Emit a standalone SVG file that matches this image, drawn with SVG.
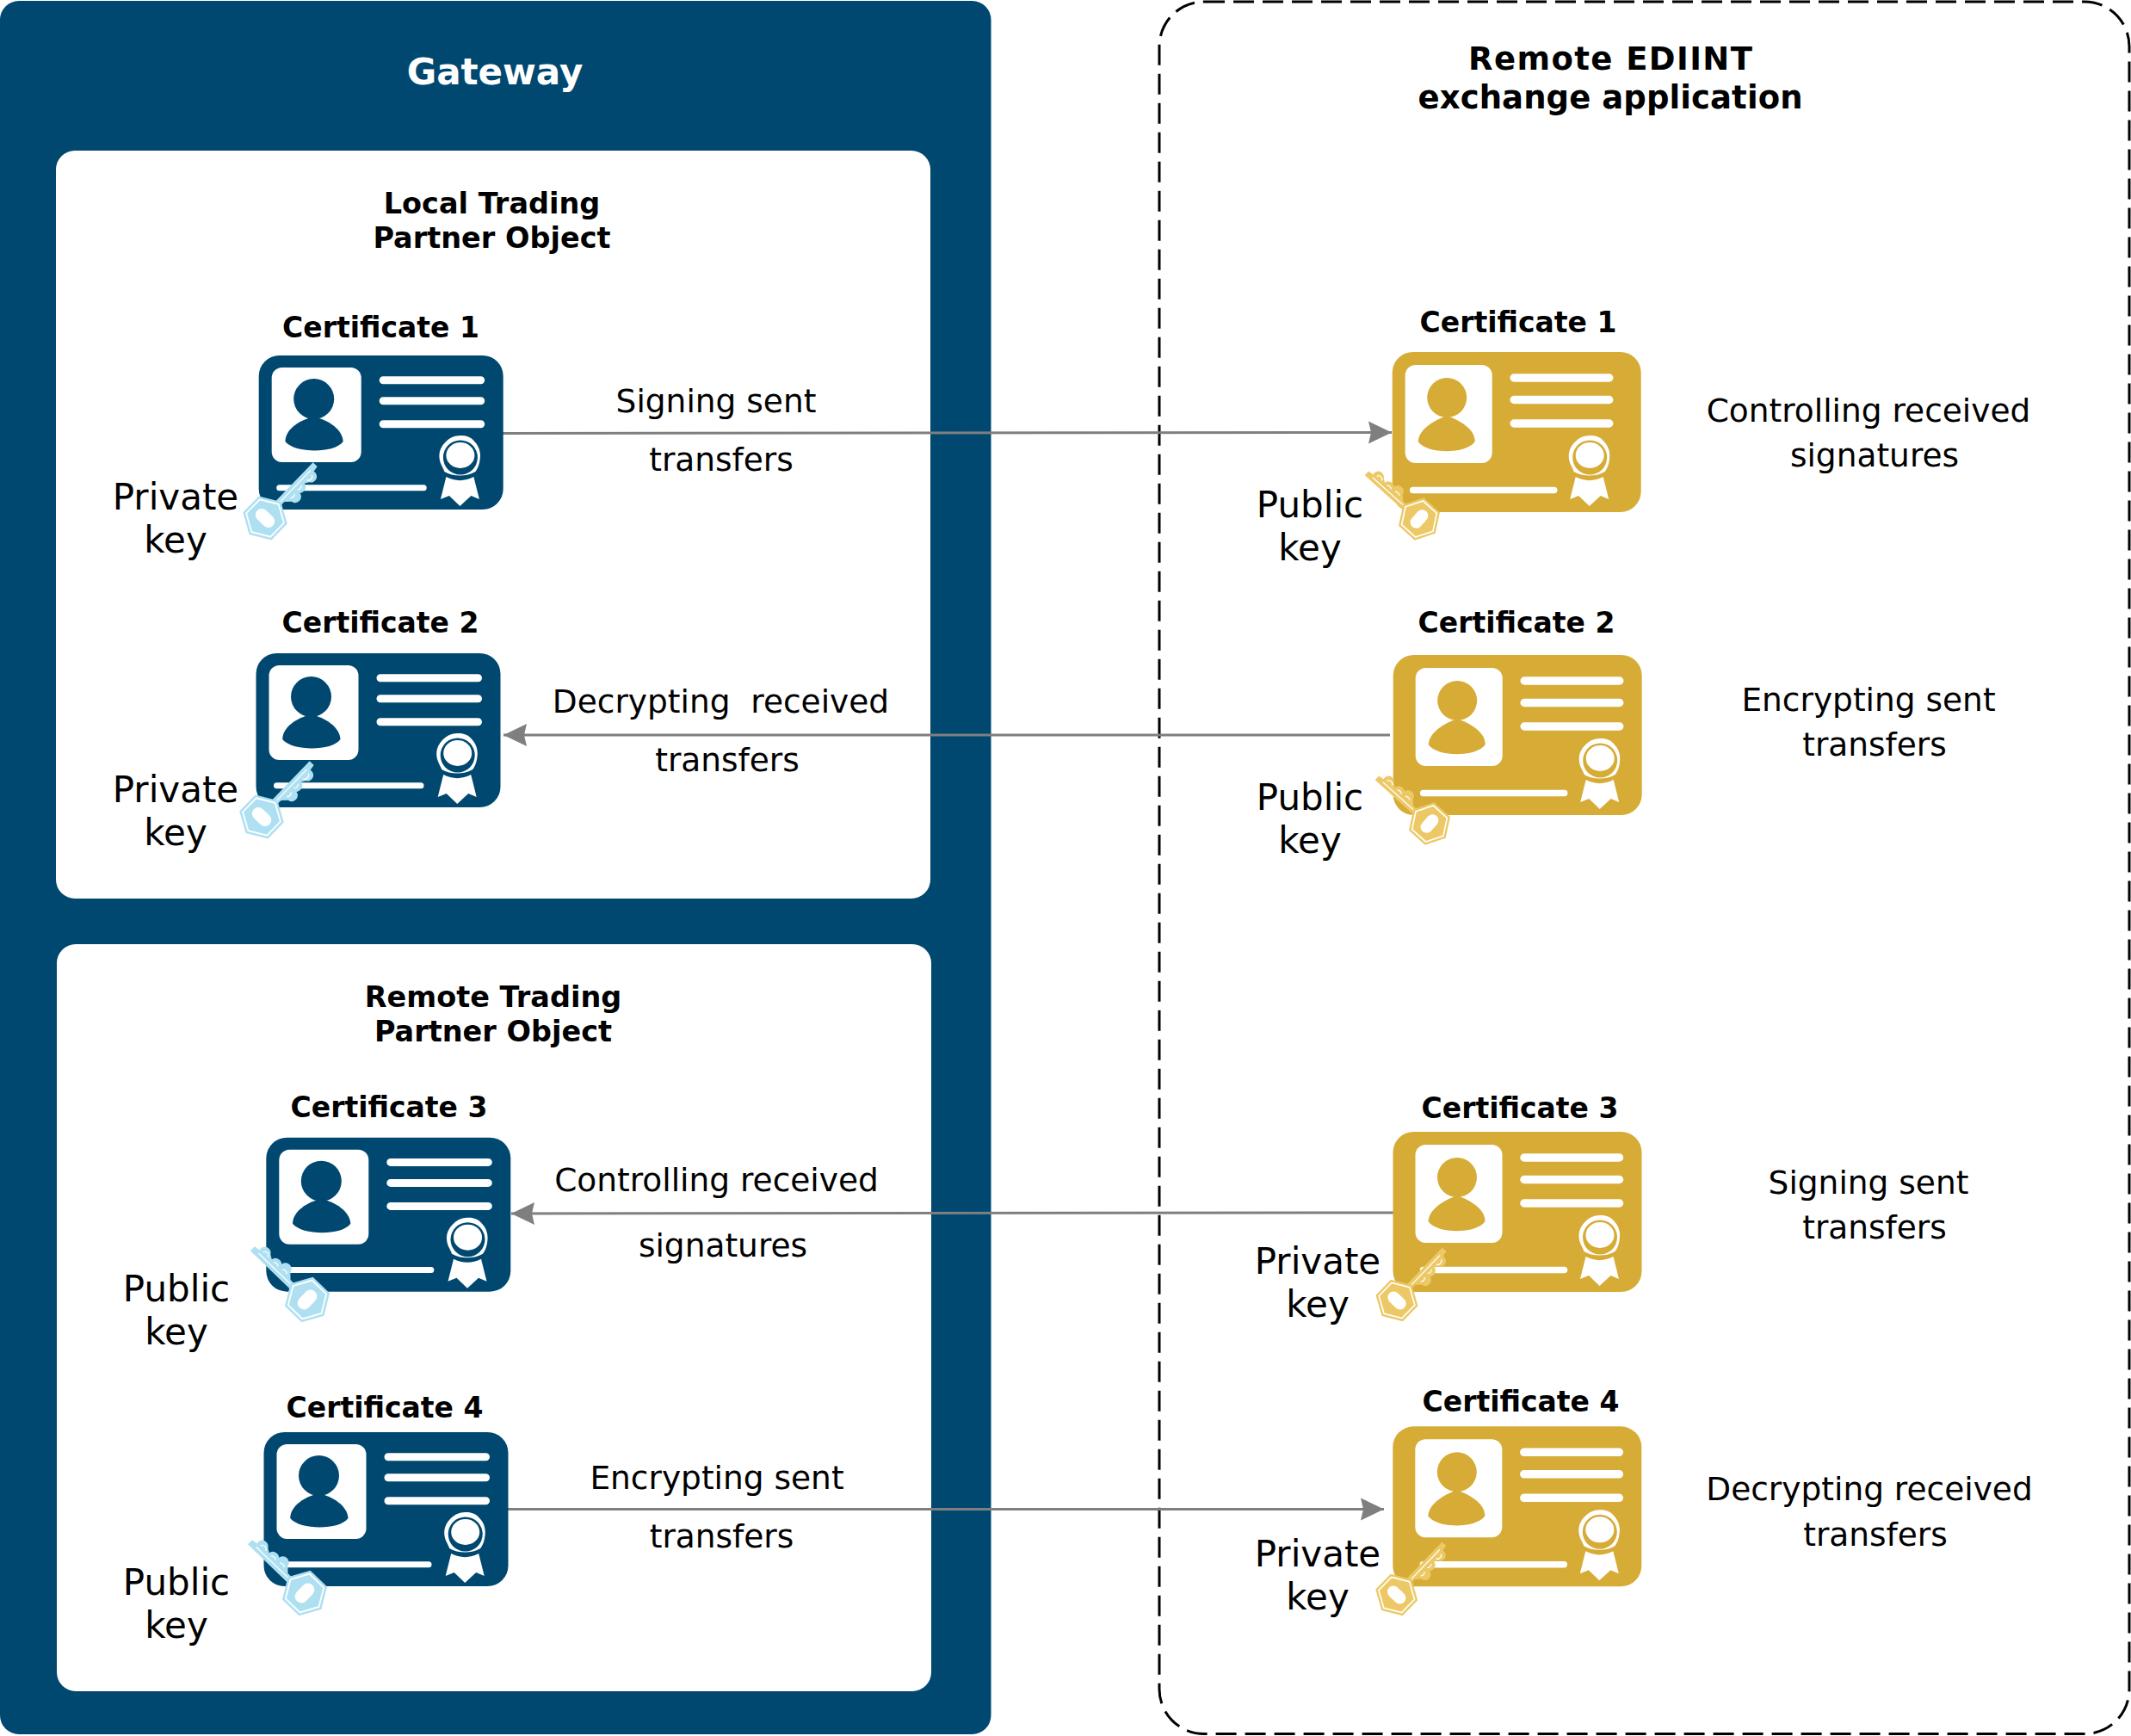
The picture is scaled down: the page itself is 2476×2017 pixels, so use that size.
<svg xmlns="http://www.w3.org/2000/svg" width="2476" height="2017" viewBox="0 0 2476 2017">
<style>
text{font-family:"DejaVu Sans","Verdana",sans-serif;fill:#000;text-anchor:middle}
.h0{font-size:42px;font-weight:700}
.h1{font-size:37px;font-weight:700}
.gw{fill:#fff}
.h2{font-size:33.5px;font-weight:700}
.c{font-size:33px;font-weight:700}
.k{font-size:42px}
.l{font-size:37.5px}
.conn{fill:none;stroke:#7f7f7f;stroke-width:3}
.w{fill:#fff}
.wl{stroke:#fff;stroke-linecap:round;fill:none}
</style>
<defs>
<marker id="arrow" markerUnits="userSpaceOnUse" markerWidth="28" markerHeight="28" refX="27" refY="13.5" orient="auto-start-reverse">
<path d="M0,0.5 L27,13.5 L0,26.5 L3,13.5z" fill="#7f7f7f"/>
</marker>
<g id="seal">
<path d="M2,-25 C8,-25 13,-23 17,-18 C22,-13 24,-6 23.5,0 C23,8 21,13 18,17 C8,23 -8,23 -18,17 C-20,11 -24,7 -24,-1 C-24,-9 -20,-15 -14,-20 C-9,-24 -4,-25 2,-25Z" class="w"/>
<circle cx="0.5" cy="0.5" r="20" fill="currentColor"/>
<ellipse cx="0.5" cy="-2" rx="16.500" ry="15" class="w"/>
<path d="M-16,23 L-22.500,49 L-12.500,45 L0,57 L13,45 L22.500,49 L16,23 C6,28.500 -6,28.500 -16,23Z" class="w"/>
</g>
<g id="blueCard" color="#00486f">
<rect width="284" height="179" rx="24" fill="#00486f"/>
<rect x="15" y="14" width="104" height="110" rx="12" class="w"/>
<circle cx="64" cy="50.500" r="23.500" fill="#00486f"/>
<path d="M30.700,100 C31,85 48,75 64,71 C80,75 97,85 98,100 C88,114 42,114 30.700,100Z" fill="#00486f"/>
<g class="wl" stroke-width="9"><path d="M144.500,28.700H258M144.500,52.700H258M144.500,79.700H258"/></g>
<path d="M24,153.700H191.500" class="wl" stroke-width="7"/>
<use href="#seal" x="233.700" y="118"/>
</g>
<g id="goldFace" color="#d6ac37">
<rect x="26" y="15" width="101" height="114" rx="12" class="w"/>
<circle cx="74.500" cy="53" r="23" fill="#d6ac37"/>
<path d="M41,104 C42,90 58,80 74.500,74 C91,80 107,90 107,104 C97,119 51,119 41,104Z" fill="#d6ac37"/>
<g class="wl" stroke-width="9.500"><path d="M152.500,30H263M152.500,55.500H263M152.500,83H263"/></g>
<path d="M35,160.500H199" class="wl" stroke-width="7.500"/>
<use href="#seal" x="240" y="122"/>
</g>
<rect id="goldBody" width="289" height="186" rx="24" fill="#d6ac37"/>
<g id="key">
<polygon points="27,0 13.500,23.500 -13.500,23.500 -27,0 -13.500,-23.500 13.500,-23.500" fill="currentColor"/>
<polygon points="23,0 11.500,20 -11.500,20 -23,0 -11.500,-20 11.500,-20" fill="none" stroke="#fff" stroke-width="1.800"/>
<rect x="-7.500" y="-13" width="15" height="26" rx="7.500" class="w"/>
<path d="M24,-5 L87,-5 L87,2 L80,3 A7,7 0 0 1 67,8 L62,5 A7,6 0 0 1 50,9 A7,6 0 0 1 36,9 L30,3 L24,3Z" fill="currentColor"/>
<path d="M27,-0.500H78" fill="none" stroke="#fff" stroke-width="1.300"/>
<path d="M38,5 a4,3 0 0 0 7,0 M51,4 a4,3 0 0 0 7,0 M67,4 a4,3 0 0 0 8,0" fill="none" stroke="#fff" stroke-width="1.300"/>
</g>
<use id="keyBlueUp" href="#key" color="#aee0f2" transform="rotate(-46) scale(.98)"/>
<use id="keyBlueDown" href="#key" color="#aee0f2" transform="rotate(224)"/>
<use id="keyGoldUp" href="#key" color="#ecc966" transform="rotate(-46) scale(.93)"/>
<use id="keyGoldDown" href="#key" color="#ecc966" transform="rotate(222) scale(.93)"/>
</defs>
<rect width="2476" height="2017" fill="#fff"/>

<g id="gateway">
<rect x="0" y="1" width="1151.500" height="2014" rx="22" fill="#00486f"/>
<text x="575" y="98" class="h0 gw">Gateway</text>
</g>
<g id="remote-app">
<rect x="1347" y="2" width="1127" height="2012.500" rx="52" fill="none" stroke="#000" stroke-width="3" stroke-dasharray="24 10"/>
<text x="1871" y="81" class="h1" textLength="330">Remote EDIINT</text>
<text x="1871" y="125.500" class="h1" textLength="447">exchange application</text>
</g>
<g id="local-partner">
<rect x="65" y="175" width="1016" height="869" rx="22" class="w"/>
<text x="571.500" y="248" class="h2">Local Trading</text>
<text x="571.500" y="288" class="h2">Partner Object</text>
</g>
<g id="remote-partner">
<rect x="66" y="1097" width="1016" height="868" rx="22" class="w"/>
<text x="573" y="1169.500" class="h2">Remote Trading</text>
<text x="573" y="1209.500" class="h2">Partner Object</text>
</g>

<g id="connectors">
<path class="conn" d="M584,503.500L1617,502.500" marker-end="url(#arrow)"/>
<path class="conn" d="M1615,854H585" marker-end="url(#arrow)"/>
<path class="conn" d="M1620,1409L594,1410" marker-end="url(#arrow)"/>
<path class="conn" d="M590,1753.500H1608" marker-end="url(#arrow)"/>
</g>

<g id="gw-cert-1">
<text x="442.500" y="391.700" class="c">Certificate 1</text>
<use href="#blueCard" x="300.700" y="413"/>
<use href="#keyBlueUp" x="308" y="602"/>
<text x="204" y="592" class="k">Private</text><text x="204" y="641.500" class="k">key</text>
<text x="832" y="479" class="l">Signing sent</text><text x="838" y="547" class="l">transfers</text>
</g>
<g id="gw-cert-2">
<text x="442" y="735" class="c">Certificate 2</text>
<use href="#blueCard" x="297.500" y="759"/>
<use href="#keyBlueUp" x="304" y="949"/>
<text x="204" y="932" class="k">Private</text><text x="204" y="982" class="k">key</text>
<text x="837.500" y="828" class="l" xml:space="preserve">Decrypting  received</text><text x="845" y="896" class="l">transfers</text>
</g>
<g id="gw-cert-3">
<text x="452" y="1298" class="c">Certificate 3</text>
<use href="#blueCard" x="309.300" y="1321.700"/>
<use href="#keyBlueDown" x="357" y="1510"/>
<text x="205" y="1512" class="k">Public</text><text x="205" y="1562" class="k">key</text>
<text x="832.500" y="1384" class="l">Controlling received</text><text x="840" y="1459.500" class="l">signatures</text>
</g>
<g id="gw-cert-4">
<text x="447" y="1647" class="c">Certificate 4</text>
<use href="#blueCard" x="306.500" y="1664"/>
<use href="#keyBlueDown" x="354" y="1851"/>
<text x="205" y="1853" class="k">Public</text><text x="205" y="1903" class="k">key</text>
<text x="833" y="1730" class="l">Encrypting sent</text><text x="838.500" y="1798" class="l">transfers</text>
</g>

<g id="ra-cert-1">
<text x="1764" y="385.700" class="c">Certificate 1</text>
<use href="#goldBody" x="1617.700" y="409"/>
<use href="#goldFace" x="1606.700" y="409"/>
<use href="#keyGoldDown" x="1649" y="603"/>
<text x="1522" y="601" class="k">Public</text><text x="1522" y="651" class="k">key</text>
<text x="2171" y="489.500" class="l">Controlling received</text><text x="2178" y="541.500" class="l">signatures</text>
</g>
<g id="ra-cert-2">
<text x="1762" y="735" class="c">Certificate 2</text>
<use href="#goldBody" x="1618.700" y="761"/>
<use href="#goldFace" x="1618.700" y="761"/>
<use href="#keyGoldDown" x="1661" y="957"/>
<text x="1522" y="941" class="k">Public</text><text x="1522" y="991" class="k">key</text>
<text x="2171" y="826" class="l">Encrypting sent</text><text x="2178" y="878" class="l">transfers</text>
</g>
<g id="ra-cert-3">
<text x="1766" y="1299" class="c">Certificate 3</text>
<use href="#goldBody" x="1618.500" y="1315"/>
<use href="#goldFace" x="1618.500" y="1315"/>
<use href="#keyGoldUp" x="1623" y="1511"/>
<text x="1531" y="1479.500" class="k">Private</text><text x="1531" y="1529.500" class="k">key</text>
<text x="2171" y="1387" class="l">Signing sent</text><text x="2178" y="1439" class="l">transfers</text>
</g>
<g id="ra-cert-4">
<text x="1767" y="1640" class="c">Certificate 4</text>
<use href="#goldBody" x="1618.300" y="1657.300"/>
<use href="#goldFace" x="1618.300" y="1657.300"/>
<use href="#keyGoldUp" x="1622.700" y="1853"/>
<text x="1531" y="1819.500" class="k">Private</text><text x="1531" y="1869.500" class="k">key</text>
<text x="2172" y="1743" class="l">Decrypting received</text><text x="2179" y="1795.500" class="l">transfers</text>
</g>
</svg>
